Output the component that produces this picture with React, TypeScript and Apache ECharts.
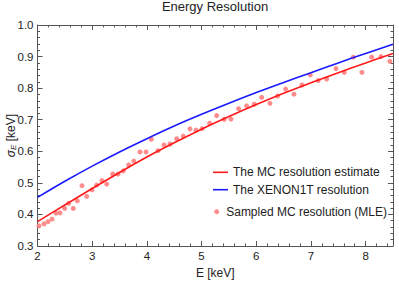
import React, { useEffect, useRef } from 'react';
import * as echarts from 'echarts';

// Smooth curves (at 0.5 keV steps)
const energyGrid = [2, 2.5, 3, 3.5, 4, 4.5, 5, 5.5, 6, 6.5, 7, 7.5, 8, 8.5];
const mcEstimate = [0.377, 0.430, 0.482, 0.533, 0.582, 0.627, 0.670, 0.710, 0.748, 0.784, 0.817, 0.849, 0.880, 0.910];
const xenon1tResolution = [0.454, 0.505, 0.553, 0.598, 0.640, 0.680, 0.717, 0.752, 0.786, 0.818, 0.849, 0.880, 0.910, 0.939];

// Sampled MC resolution (MLE)
const sampledEnergy = [
  2.027, 2.119, 2.192, 2.265, 2.338, 2.411, 2.497, 2.570, 2.654, 2.728,
  2.814, 2.899, 2.996, 3.082, 3.179, 3.265, 3.375, 3.472, 3.569, 3.667,
  3.760, 3.874, 3.984, 4.081, 4.203, 4.313, 4.422, 4.545, 4.665, 4.788,
  4.898, 5.010, 5.148, 5.276, 5.412, 5.537, 5.678, 5.824, 5.963, 6.099,
  6.250, 6.391, 6.537, 6.689, 6.835, 6.987, 7.133, 7.287, 7.457, 7.609,
  7.773, 7.932, 8.110, 8.280, 8.444,
];
const sampledSigma = [
  0.364, 0.370, 0.377, 0.385, 0.404, 0.405, 0.419, 0.435, 0.419, 0.443,
  0.491, 0.457, 0.478, 0.493, 0.507, 0.496, 0.528, 0.528, 0.538, 0.557,
  0.569, 0.598, 0.598, 0.638, 0.602, 0.620, 0.623, 0.640, 0.648, 0.671,
  0.667, 0.672, 0.689, 0.713, 0.701, 0.702, 0.735, 0.744, 0.749, 0.771,
  0.752, 0.775, 0.797, 0.781, 0.810, 0.842, 0.824, 0.829, 0.862, 0.850,
  0.898, 0.850, 0.898, 0.900, 0.885,
];

const xTickLabels = [2, 3, 4, 5, 6, 7, 8];

const seriesNames = ['The MC resolution estimate', 'The XENON1T resolution', 'Sampled MC resolution (MLE)'];

const FONT = 'Liberation Sans, Arial, sans-serif';
const FRAME = '#555';
const TEXT = '#222';
const RED = '#ff1a1a';
const BLUE = '#1a1aff';

export default function App() {
  const ref = useRef<HTMLDivElement>(null);

  useEffect(() => {
    if (!ref.current) return;
    const chart = echarts.init(ref.current, undefined, { renderer: 'svg' });

    const baseX = {
      type: 'value',
      min: 2,
      max: 8.5,
      splitLine: { show: false },
      axisLine: { show: true, onZero: false, lineStyle: { color: FRAME, width: 1 } },
    };
    const majorX = (position: string, labels: boolean) => ({
      ...baseX,
      position,
      interval: 1,
      axisTick: { show: true, inside: true, length: 5, lineStyle: { color: FRAME } },
      axisLabel: {
        show: labels,
        margin: 4,
        fontFamily: FONT,
        fontSize: 11.5,
        color: TEXT,
        formatter: (v: number) => (xTickLabels.includes(Math.round(v * 1000) / 1000) ? String(v) : ''),
      },
    });
    const minorX = (position: string) => ({
      ...baseX,
      position,
      interval: 0.2,
      axisLine: { show: false, onZero: false },
      axisTick: { show: true, inside: true, length: 2.5, lineStyle: { color: FRAME } },
      axisLabel: { show: false },
    });
    const yAxisDef = (position: string, labels: boolean) => ({
      type: 'value',
      position,
      min: 0.3,
      max: 1.0,
      interval: 0.1,
      splitLine: { show: false },
      axisLine: { show: true, onZero: false, lineStyle: { color: FRAME, width: 1 } },
      axisTick: { show: true, inside: true, length: 5, lineStyle: { color: FRAME } },
      minorTick: { show: true, splitNumber: 5, length: 2.5, lineStyle: { color: FRAME } },
      axisLabel: {
        show: labels,
        margin: 4,
        fontFamily: FONT,
        fontSize: 11.5,
        color: TEXT,
        formatter: (v: number) => v.toFixed(1),
      },
    });

    const bottomMajor: any = majorX('bottom', true);
    bottomMajor.name = 'E [keV]';
    bottomMajor.nameLocation = 'middle';
    bottomMajor.nameGap = 21;
    bottomMajor.nameMoveOverlap = false;
    bottomMajor.nameTextStyle = { fontFamily: FONT, fontSize: 12, color: TEXT };

    const leftY: any = yAxisDef('left', true);
    leftY.name = '{i|σ}{sub|E} [keV]';
    leftY.nameLocation = 'middle';
    leftY.nameRotate = 90;
    leftY.nameGap = 20;
    leftY.nameMoveOverlap = false;
    leftY.nameTextStyle = {
      fontFamily: FONT,
      fontSize: 12,
      color: TEXT,
      rich: {
        i: { fontFamily: FONT, fontSize: 12, fontStyle: 'italic', color: TEXT },
        sub: { fontFamily: FONT, fontSize: 8, fontStyle: 'italic', color: TEXT, verticalAlign: 'bottom', padding: [5, 0, 0, 0] },
      },
    };

    const legendBase = {
      orient: 'vertical',
      padding: 0,
      itemHeight: 14,
      selectedMode: false,
      symbolKeepAspect: true,
      textStyle: { fontFamily: FONT, fontSize: 12, color: TEXT },
    };
    const lineIcon = 'path://M0 0H15V1.6H0Z';

    chart.setOption({
      animation: false,
      backgroundColor: '#fff',
      title: {
        text: 'Energy Resolution',
        left: 215,
        top: 0,
        padding: 0,
        textAlign: 'center',
        textStyle: { fontFamily: FONT, fontSize: 13, fontWeight: 'normal', color: TEXT },
      },
      grid: { left: 37.5, right: 6, top: 25, bottom: 35, containLabel: false, outerBoundsMode: 'none' },
      xAxis: [bottomMajor, minorX('bottom'), majorX('top', false), minorX('top')],
      yAxis: [leftY, yAxisDef('right', false)],
      legend: [
        { ...legendBase, left: 213, top: 166.3, itemWidth: 15, data: [{ name: seriesNames[0], icon: lineIcon }] },
        { ...legendBase, left: 213, top: 183.7, itemWidth: 15, data: [{ name: seriesNames[1], icon: lineIcon }] },
        {
          ...legendBase,
          left: 214.2,
          top: 205.7,
          itemWidth: 5,
          data: [seriesNames[2]],
          textStyle: { ...legendBase.textStyle, padding: [0, 0, 0, 2] },
        },
      ],
      series: [
        {
          name: seriesNames[0],
          type: 'line',
          xAxisIndex: 0,
          yAxisIndex: 0,
          smooth: 0.3,
          symbol: 'none',
          lineStyle: { color: RED, width: 1.6 },
          itemStyle: { color: RED },
          data: energyGrid.map((e, i) => [e, mcEstimate[i]]),
          z: 3,
        },
        {
          name: seriesNames[1],
          type: 'line',
          xAxisIndex: 0,
          yAxisIndex: 0,
          smooth: 0.3,
          symbol: 'none',
          lineStyle: { color: BLUE, width: 1.6 },
          itemStyle: { color: BLUE },
          data: energyGrid.map((e, i) => [e, xenon1tResolution[i]]),
          z: 3,
        },
        {
          name: seriesNames[2],
          type: 'scatter',
          xAxisIndex: 0,
          yAxisIndex: 0,
          symbol: 'circle',
          symbolSize: 5,
          itemStyle: { color: 'rgb(255,128,128)', opacity: 0.9 },
          data: sampledEnergy.map((e, i) => [e, sampledSigma[i]]),
          z: 2,
        },
      ],
    });

    return () => chart.dispose();
  }, []);

  return <div ref={ref} style={{ position: 'fixed', left: 0, top: 0, width: 399, height: 281 }} />;
}
